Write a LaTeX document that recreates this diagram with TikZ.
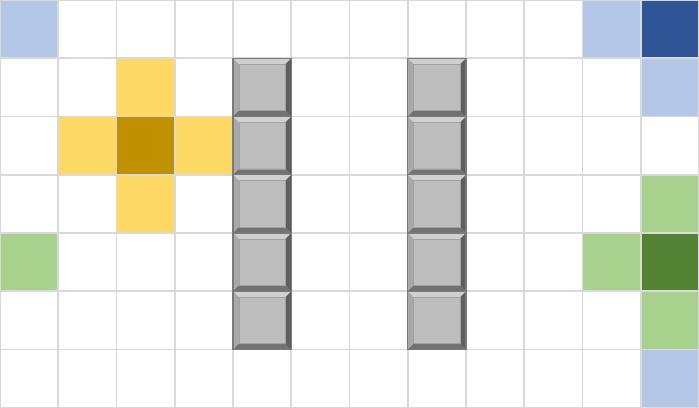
\documentclass[tikz,border=0pt]{standalone}
\definecolor{gridc}{HTML}{D9D9D9}
\definecolor{lblue}{HTML}{B4C7E7}
\definecolor{dblue}{HTML}{2F5597}
\definecolor{lyel}{HTML}{FFD966}
\definecolor{dgold}{HTML}{BF9000}
\definecolor{lgreen}{HTML}{A9D18E}
\definecolor{dgreen}{HTML}{548235}
\definecolor{wface}{HTML}{BDBDBD}
\definecolor{wtop}{HTML}{D0D0D0}
\definecolor{wleft}{HTML}{A8A8A8}
\definecolor{wright}{HTML}{5E5E5E}
\definecolor{wbot}{HTML}{727272}
\definecolor{wedge}{HTML}{7A7A7A}
\tikzset{
  gridline/.style={draw=gridc, line width=0.9pt},
  cellfill/.style={fill=#1, draw=gridc, line width=0.9pt}
}
\newcommand{\cellat}[3]{\path[cellfill=#3] (#1,-#2) rectangle ++(1,-1);}
\newcommand{\wallat}[2]{%
  \begin{scope}[shift={(#1,-#2)}]
    \fill[wface] (0,0) rectangle (1,-1);
    \fill[wtop] (0,0) -- (1,0) -- (0.9,-0.1) -- (0.1,-0.1) -- cycle;
    \fill[wleft] (0,0) -- (0.1,-0.1) -- (0.1,-0.9) -- (0,-1) -- cycle;
    \fill[wright] (1,0) -- (1,-1) -- (0.9,-0.9) -- (0.9,-0.1) -- cycle;
    \fill[wbot] (0,-1) -- (1,-1) -- (0.9,-0.9) -- (0.1,-0.9) -- cycle;
    \draw[wedge, line width=0.5pt] (0,0) rectangle (1,-1);
    \draw[wedge!70!white, line width=0.3pt] (0.1,-0.1) rectangle (0.9,-0.9);
  \end{scope}}
\begin{document}
\begin{tikzpicture}
\useasboundingbox (0,0) rectangle (12,-7);
\fill[white] (0,0) rectangle (12,-7);
\draw[gridline] (0,0) grid (12,-7);
% blue
\cellat{0}{0}{lblue}
\cellat{10}{0}{lblue}
\cellat{11}{0}{dblue}
\cellat{11}{1}{lblue}
\cellat{11}{6}{lblue}
% yellow
\cellat{2}{1}{lyel}
\cellat{1}{2}{lyel}
\cellat{2}{2}{dgold}
\cellat{3}{2}{lyel}
\cellat{2}{3}{lyel}
% green
\cellat{11}{3}{lgreen}
\cellat{0}{4}{lgreen}
\cellat{10}{4}{lgreen}
\cellat{11}{4}{dgreen}
\cellat{11}{5}{lgreen}
% walls
\foreach \r in {1,...,5} {\wallat{4}{\r}\wallat{7}{\r}}
\end{tikzpicture}
\end{document}
